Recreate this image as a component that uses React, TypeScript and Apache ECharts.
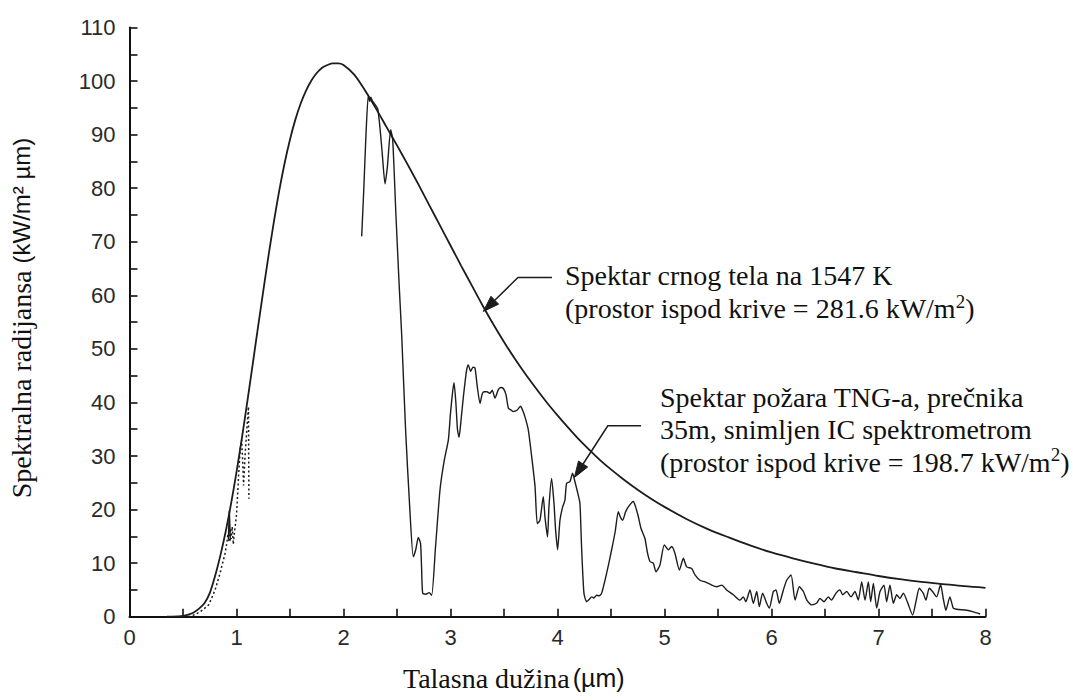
import React, { useEffect, useRef } from 'react';
import * as echarts from 'echarts';

// Blackbody spectrum at 1547 K: [wavelength µm, spectral radiance kW/m² µm]
const blackbody: [number, number][] = [
  [0.35, 0], [0.4, 0.02], [0.45, 0.06], [0.5, 0.15], [0.55, 0.4], [0.6, 0.8],
  [0.65, 1.5], [0.7, 2.5], [0.75, 4.4], [0.8, 7.6], [0.85, 11.5], [0.9, 16.0],
  [0.95, 21.2], [1.0, 27.0], [1.05, 33.3], [1.1, 40.0], [1.15, 46.9], [1.2, 53.9],
  [1.25, 60.8], [1.3, 67.5], [1.35, 73.8], [1.4, 79.6], [1.45, 84.7], [1.5, 89.1],
  [1.55, 92.8], [1.6, 95.8], [1.65, 98.2], [1.7, 100.1], [1.75, 101.5], [1.8, 102.5],
  [1.85, 103.0], [1.9, 103.3], [1.95, 103.3], [2.0, 103.0], [2.1, 101.2], [2.2, 98.3],
  [2.3, 95.0], [2.4, 91.5], [2.5, 88.0], [2.6, 84.4], [2.7, 80.7], [2.8, 76.9],
  [2.9, 73.1], [3.0, 69.3], [3.1, 65.5], [3.2, 61.8], [3.3, 58.1], [3.4, 54.6],
  [3.5, 51.3], [3.6, 48.2], [3.7, 45.3], [3.8, 42.6], [3.9, 40.0], [4.0, 37.6],
  [4.1, 35.3], [4.2, 33.1], [4.3, 31.1], [4.4, 29.2], [4.5, 27.5], [4.6, 25.9],
  [4.7, 24.4], [4.8, 23.0], [4.9, 21.7], [5.0, 20.5], [5.2, 18.3], [5.4, 16.4],
  [5.6, 14.8], [5.8, 13.3], [6.0, 12.0], [6.2, 10.9], [6.4, 9.9], [6.6, 9.0],
  [6.8, 8.3], [7.0, 7.6], [7.2, 7.0], [7.4, 6.5], [7.6, 6.1], [7.8, 5.7], [8.0, 5.4],
];

// LNG fire spectrum, near-IR band (dotted)
const fireNearIR: [number, number][] = [
  [0.55, 0], [0.6, 0.3], [0.66, 0.9], [0.74, 2.2], [0.8, 5.0], [0.846, 8.1],
  [0.893, 11.8], [0.91, 13.8], [0.92, 15.5], [0.93, 13.9], [0.94, 16.5], [0.95, 14.5],
  [0.96, 16.8], [0.97, 13.5], [0.98, 15.5], [1.0, 19], [1.02, 26.5], [1.035, 31.5],
  [1.048, 33.0], [1.058, 29], [1.066, 24.5], [1.08, 30], [1.1, 36], [1.112, 39.2],
  [1.114, 30], [1.116, 22],
];

// narrow solid peak inside the near-IR band
const fireNearIRPeak: [number, number][] = [
  [0.924, 14.5], [0.933, 19.8], [0.938, 17], [0.943, 14.2],
];

// LNG fire spectrum, IR spectrometer band (solid)
const fireIR: [number, number][] = [
  [2.17, 71.0], [2.19, 80], [2.21, 90], [2.232, 97.4], [2.245, 96.2], [2.255, 97.0],
  [2.27, 96.3], [2.32, 94.8], [2.36, 87], [2.388, 80.8], [2.41, 84], [2.441, 90.9],
  [2.46, 89], [2.49, 75], [2.52, 62], [2.544, 52.5], [2.58, 35], [2.62, 20],
  [2.652, 11.2], [2.675, 12.5], [2.699, 14.8], [2.72, 13.7], [2.73, 9], [2.74, 4.4],
  [2.77, 4.2], [2.8, 4.5], [2.824, 4.0], [2.86, 13], [2.902, 23.7], [2.94, 29],
  [2.98, 33], [3.0, 38], [3.02, 42], [3.033, 43.7], [3.05, 40], [3.065, 35],
  [3.08, 33.5], [3.1, 37], [3.12, 41], [3.135, 43.6], [3.15, 46], [3.166, 47.0],
  [3.188, 45.8], [3.21, 46.6], [3.229, 46.4], [3.25, 43], [3.276, 39.8], [3.295, 41.5],
  [3.313, 42.0], [3.34, 42], [3.369, 41.7], [3.39, 42.3], [3.416, 40.8], [3.447, 42.4],
  [3.47, 42.8], [3.494, 42.6], [3.519, 41.4], [3.541, 38.9], [3.565, 38.6], [3.587, 38.3],
  [3.624, 38.6], [3.655, 39.3], [3.675, 38.5], [3.696, 37.3], [3.727, 34.9], [3.758, 30.0],
  [3.79, 24.3], [3.811, 17.4], [3.836, 18.0], [3.867, 22.4], [3.883, 18.6], [3.907, 14.9],
  [3.92, 20.5], [3.945, 25.8], [3.967, 21.2], [3.982, 16.3], [4.001, 12.5], [4.023, 18.0],
  [4.048, 20.5], [4.069, 21.7], [4.085, 24.9], [4.116, 25.2], [4.141, 26.8], [4.163, 25.2],
  [4.194, 22.7], [4.21, 21.1], [4.225, 13.0], [4.247, 4.4], [4.272, 2.8], [4.295, 3.2],
  [4.319, 3.7], [4.34, 3.5], [4.366, 4.0], [4.39, 3.9], [4.413, 4.4], [4.459, 8.1],
  [4.506, 12.5], [4.54, 16], [4.568, 19.6], [4.59, 18.5], [4.609, 18.0], [4.635, 19.5],
  [4.662, 20.5], [4.708, 21.5], [4.73, 20.5], [4.755, 18.7], [4.78, 16.5], [4.817, 14.6],
  [4.84, 12], [4.864, 10.3], [4.895, 10.0], [4.92, 8.4], [4.957, 9.6], [4.998, 13.4],
  [5.036, 12.5], [5.067, 13.1], [5.098, 11.8], [5.139, 8.7], [5.176, 10.9], [5.207, 9.3],
  [5.254, 9.0], [5.285, 7.8], [5.332, 6.8], [5.379, 6.5], [5.441, 5.9], [5.488, 5.6],
  [5.535, 5.9], [5.58, 5.0], [5.643, 4.1], [5.706, 3.1], [5.737, 3.7], [5.76, 2.8],
  [5.799, 5.0], [5.83, 2.5], [5.862, 4.7], [5.886, 1.9], [5.917, 4.4], [5.955, 2.5],
  [5.98, 1.6], [6.017, 4.7], [6.042, 5.0], [6.073, 2.5], [6.111, 5.0], [6.142, 6.8],
  [6.183, 7.8], [6.22, 3.1], [6.26, 5.6], [6.298, 4.7], [6.33, 3.1], [6.375, 2.2],
  [6.42, 2.5], [6.453, 3.4], [6.49, 2.8], [6.531, 3.7], [6.56, 3.1], [6.603, 4.4],
  [6.64, 5.0], [6.665, 4.1], [6.703, 4.7], [6.743, 3.7], [6.78, 4.7], [6.811, 3.1],
  [6.843, 6.5], [6.874, 3.1], [6.905, 6.5], [6.927, 2.8], [6.952, 6.2], [6.983, 1.6],
  [7.014, 4.7], [7.051, 5.9], [7.076, 2.8], [7.107, 5.9], [7.139, 2.5], [7.17, 4.1],
  [7.2, 3.4], [7.232, 4.4], [7.269, 2.8], [7.319, 0.3], [7.35, 2.8], [7.381, 5.3],
  [7.418, 4.4], [7.443, 3.1], [7.474, 5.3], [7.505, 4.7], [7.543, 3.7], [7.58, 6.0],
  [7.605, 3.4], [7.63, 1.2], [7.667, 3.7], [7.699, 1.6], [7.73, 1.4], [7.824, 1.2],
  [7.886, 0.9], [7.95, 0.5],
];

// Annotation texts and the data points their arrows point at
const bbLines = ['Spektar crnog tela na 1547 K', '(prostor ispod krive = 281.6 kW/m', ')'];
const fireLines = [
  'Spektar požara TNG-a, prečnika',
  '35m, snimljen IC spektrometrom',
  '(prostor ispod krive = 198.7 kW/m',
  ')',
];
const bbArrowTip: [number, number] = [3.307, 57.0];
const fireArrowTip: [number, number] = [4.158, 26.0];

const xTitle = ['Talasna dužina', '(µm)'];
const yTitle = ['Spektralna radijansa ', '(kW/m² µm)'];

const SERIF = "'Liberation Serif', 'Times New Roman', serif";
const SANS = "'Liberation Sans', Arial, sans-serif";
const INK = '#1c1c1c';

function arrow(tip: number[], elbow: number[], end: number[]) {
  const dx = tip[0] - elbow[0];
  const dy = tip[1] - elbow[1];
  const len = Math.hypot(dx, dy);
  const ux = dx / len;
  const uy = dy / len;
  const L = 16;
  const W = 5.5;
  const bx = tip[0] - ux * L;
  const by = tip[1] - uy * L;
  return [
    {
      type: 'polyline',
      shape: { points: [end, elbow, [bx, by]] },
      style: { stroke: INK, lineWidth: 1.5, fill: 'none' },
      silent: true,
    },
    {
      type: 'polygon',
      shape: {
        points: [tip, [bx - uy * W, by + ux * W], [bx + uy * W, by - ux * W]],
      },
      style: { fill: INK, stroke: INK, lineWidth: 1 },
      silent: true,
    },
  ];
}

export default function App() {
  const ref = useRef<HTMLDivElement>(null);

  useEffect(() => {
    if (!ref.current) return;
    const chart = echarts.init(ref.current, null, { renderer: 'svg' });

    const axisLineStyle = { color: '#111', width: 2 };
    const tickStyle = { color: '#111', width: 1.6 };
    const labelStyle = { fontSize: 22, fontFamily: SANS, color: '#2a2a2a' };

    chart.setOption({
      animation: false,
      backgroundColor: '#fff',
      grid: { left: 129.5, right: 87.5, top: 27.5, bottom: 83.3 },
      xAxis: {
        type: 'value',
        min: 0,
        max: 8,
        interval: 1,
        axisLine: { show: true, lineStyle: axisLineStyle },
        axisTick: { show: true, inside: true, length: 8, lineStyle: tickStyle },
        minorTick: { show: true, splitNumber: 2, length: 8, lineStyle: tickStyle },
        splitLine: { show: false },
        axisLabel: { ...labelStyle, margin: 10 },
      },
      yAxis: {
        type: 'value',
        min: 0,
        max: 110,
        interval: 10,
        axisLine: { show: true, lineStyle: axisLineStyle },
        axisTick: { show: true, inside: true, length: 8, lineStyle: tickStyle },
        minorTick: { show: true, splitNumber: 2, length: 8, lineStyle: tickStyle },
        splitLine: { show: false },
        axisLabel: { ...labelStyle, margin: 14 },
      },
      series: [
        {
          name: 'Crno telo 1547 K',
          type: 'line',
          data: blackbody,
          showSymbol: false,
          smooth: 0.3,
          lineStyle: { color: INK, width: 1.8 },
          silent: true,
          z: 3,
        },
        {
          name: 'Požar TNG (IC)',
          type: 'line',
          data: fireIR,
          showSymbol: false,
          smooth: 0.2,
          lineStyle: { color: INK, width: 1.4 },
          silent: true,
          z: 2,
        },
        {
          name: 'Požar TNG (bliski IC)',
          type: 'line',
          data: fireNearIR,
          showSymbol: false,
          lineStyle: { color: INK, width: 1.5, type: [2, 2.5] },
          silent: true,
          z: 2,
        },
        {
          name: 'Požar TNG (bliski IC, vrh)',
          type: 'line',
          data: fireNearIRPeak,
          showSymbol: false,
          lineStyle: { color: INK, width: 1.4 },
          silent: true,
          z: 2,
        },
      ],
    });

    const toPx = (p: [number, number]) =>
      chart.convertToPixel({ gridIndex: 0 }, p) as number[];
    const t1 = toPx(bbArrowTip);
    const t2 = toPx(fireArrowTip);

    const textStyle = { fontSize: 28, fontFamily: SERIF, fill: '#111' };
    const line = (text: string, x: number, baseline: number) => ({
      type: 'text',
      x,
      y: baseline - 9.5,
      silent: true,
      style: { ...textStyle, text, align: 'left', verticalAlign: 'middle' },
    });
    const supLine = (text: string, close: string, x: number, baseline: number) => ({
      type: 'text',
      x,
      y: baseline - 9.5,
      silent: true,
      style: {
        text: `{t|${text}}{s|2}{t|${close}}`,
        align: 'left',
        verticalAlign: 'middle',
        rich: {
          t: { ...textStyle, lineHeight: 34, verticalAlign: 'middle' },
          s: { fontSize: 19, fontFamily: SERIF, fill: '#111', lineHeight: 24, verticalAlign: 'top' },
        },
      },
    });

    chart.setOption({
      graphic: [
        ...arrow(t1, [t1[0] + 34.6, t1[1] - 33.8], [t1[0] + 68.6, t1[1] - 33.8]),
        ...arrow(t2, [t2[0] + 33.4, t2[1] - 51.6], [t2[0] + 66.7, t2[1] - 51.6]),
        line(bbLines[0], 565, 285),
        supLine(bbLines[1], bbLines[2], 565, 318),
        line(fireLines[0], 660, 406.7),
        line(fireLines[1], 660, 439.3),
        supLine(fireLines[2], fireLines[3], 660, 471.7),
        {
          type: 'text',
          x: 403,
          y: 678,
          silent: true,
          style: {
            text: `{a|${xTitle[0]}}{b|${xTitle[1]}}`,
            align: 'left',
            verticalAlign: 'middle',
            rich: {
              a: { fontSize: 28, fontFamily: SERIF, fill: '#111', verticalAlign: 'middle', padding: [0, 3, 0, 0] },
              b: { fontSize: 25, fontFamily: SANS, fill: '#111', verticalAlign: 'middle' },
            },
          },
        },
        {
          type: 'text',
          x: 21,
          y: 318,
          rotation: Math.PI / 2,
          silent: true,
          style: {
            text: `{a|${yTitle[0]}}{b|${yTitle[1]}}`,
            align: 'center',
            verticalAlign: 'middle',
            rich: {
              a: { fontSize: 28, fontFamily: SERIF, fill: '#111', verticalAlign: 'middle' },
              b: { fontSize: 24, fontFamily: SANS, fill: '#111', verticalAlign: 'middle' },
            },
          },
        },
      ],
    });

    return () => chart.dispose();
  }, []);

  return (
    <div
      ref={ref}
      style={{ position: 'fixed', left: 0, top: 0, width: 1073, height: 700, background: '#fff' }}
    />
  );
}
